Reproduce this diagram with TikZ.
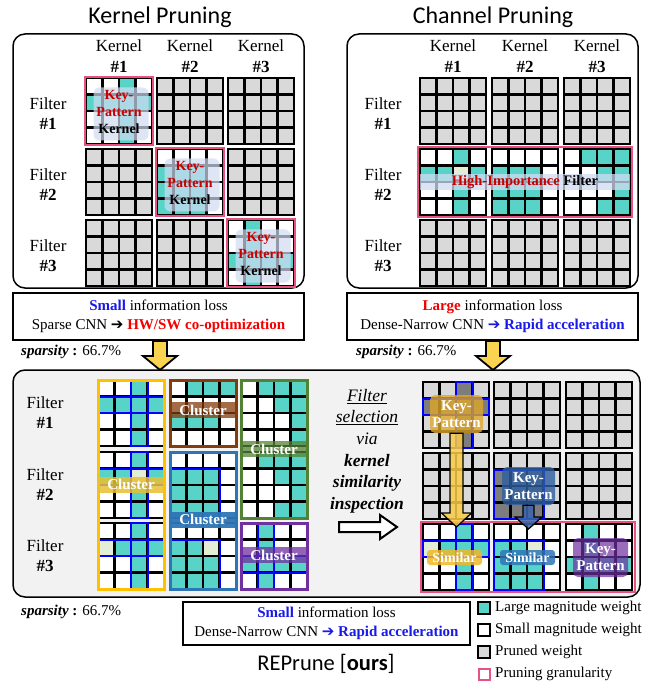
\documentclass[tikz,border=0pt]{standalone}
\usepackage{fontspec}
\setmainfont{Liberation Serif}
\newfontfamily\calfont{Carlito}
\newfontfamily\symfont{DejaVu Sans}
\usetikzlibrary{calc}

% weight colours
\definecolor{cT}{RGB}{88,211,200}
\definecolor{cW}{RGB}{255,255,255}
\definecolor{cG}{RGB}{217,217,217}
\definecolor{cD}{RGB}{125,125,125}
\definecolor{cC}{RGB}{228,238,214}
\definecolor{pinkg}{RGB}{232,82,128}
\definecolor{txtblue}{RGB}{25,25,235}
\definecolor{txtred}{RGB}{245,0,0}
\definecolor{darkred}{RGB}{200,0,0}
\definecolor{clYel}{RGB}{255,192,0}
\definecolor{clYelLbl}{RGB}{232,192,50}
\definecolor{clBrn}{RGB}{132,60,12}
\definecolor{clGrn}{RGB}{84,130,53}
\definecolor{clBlu}{RGB}{46,117,182}
\definecolor{clPur}{RGB}{112,48,160}
\definecolor{arrYel}{RGB}{250,212,80}
\definecolor{panelgray}{RGB}{242,242,242}
\definecolor{keyblue}{RGB}{0,0,255}
\definecolor{ovl}{RGB}{208,220,242}

% 4x4 kernel patterns (T large, W small, G pruned, D pruned key cell, C faint)
\def\patG{G,G,G,G,G,G,G,G,G,G,G,G,G,G,G,G}
\def\patA{W,W,T,W,T,T,T,T,W,W,T,W,W,W,T,W}
\def\patAb{W,W,T,W,T,T,C,T,W,W,T,W,W,W,T,W}
\def\patAc{W,W,T,W,C,T,T,T,W,W,T,W,W,W,T,W}
\def\patB{W,W,W,W,T,T,T,W,T,T,T,W,T,T,T,W}
\def\patBc{W,W,W,W,T,T,C,W,T,T,T,W,T,T,T,W}
\def\patE{W,T,W,W,W,T,W,W,T,T,T,T,W,T,W,W}
\def\patH{W,T,T,T,W,W,T,T,W,W,W,T,W,W,W,T}
\def\patHb{W,T,T,T,W,W,T,T,W,W,W,T,W,W,T,T}
\def\patK{W,T,T,T,W,W,W,W,T,T,T,W,W,W,W,W}
\def\patAd{G,G,D,G,D,D,D,D,G,G,D,G,G,G,D,G}
\def\patBd{G,G,G,G,D,D,D,G,D,D,D,G,D,D,D,G}

\tikzset{
  cellline/.style={line width=2.1pt, draw=black},
  keyline/.style={line width=2pt, draw=keyblue},
  pinkbox/.style={draw=pinkg, line width=2.6pt},
  lbl/.style={font=\fontsize{17}{20}\selectfont, inner sep=0pt},
  lblb/.style={font=\fontsize{17}{20}\selectfont\bfseries, inner sep=0pt},
  titletext/.style={font=\calfont\fontsize{24}{28}\selectfont, inner sep=0pt},
  kpover/.style={rounded corners=6pt, fill=ovl, fill opacity=0.7, minimum width=55pt, minimum height=53pt, inner sep=0pt},
  kptext/.style={font=\fontsize{14}{17}\selectfont\bfseries, align=center, inner sep=0pt},
  infobox/.style={draw=black, line width=1.5pt, fill=white, align=center, font=\fontsize{15}{19}\selectfont, inner sep=0pt},
  sparse/.style={font=\fontsize{15}{18}\selectfont, inner sep=0pt, anchor=west},
  clusterbox/.style={line width=3pt},
  clusterlbl/.style={minimum width=66pt, minimum height=16pt, inner sep=0pt, fill opacity=0.75, text opacity=1, text=white, font=\fontsize{15}{18}\selectfont\bfseries},
  keylbl/.style={rounded corners=5pt, inner sep=0pt, fill opacity=0.8, text opacity=1, text=white, align=center, font=\fontsize{15}{17}\selectfont\bfseries},
  simlbl/.style={rounded corners=3pt, minimum width=55pt, minimum height=15pt, inner sep=0pt, fill opacity=0.85, text opacity=1, text=white, font=\fontsize{14}{16}\selectfont\bfseries},
  legtext/.style={font=\fontsize{15}{18}\selectfont, inner sep=0pt, anchor=west},
  legbox/.style={line width=1.3pt, draw=black},
}

% one kernel: top-left corner (x,y) and a pattern macro
\newcommand\kgrid[3]{%
  \begin{scope}[shift={(#1,#2)},x=16.5pt,y=-16.5pt]
    \foreach \c [count=\i from 0] in #3 {%
      \pgfmathtruncatemacro\cx{mod(\i,4)}%
      \pgfmathtruncatemacro\cy{floor(\i/4)}%
      \fill[fill=c\c] (\cx,\cy) rectangle ++(1,1);}
    \foreach \k in {1,2,3}{\draw[cellline] (\k,0)--(\k,4) (0,\k)--(4,\k);}
    \draw[cellline] (0,0) rectangle (4,4);
  \end{scope}}
% key-pattern outlines inside a kernel
\newcommand\crossA[2]{\begin{scope}[shift={(#1,#2)},x=16.5pt,y=-16.5pt]
  \draw[keyline] (2,0) rectangle (3,4) (0,1) rectangle (4,2);\end{scope}}
\newcommand\crossB[2]{\begin{scope}[shift={(#1,#2)},x=16.5pt,y=-16.5pt]
  \draw[keyline] (1,0) rectangle (2,4) (0,2) rectangle (4,3);\end{scope}}
\newcommand\blockC[2]{\begin{scope}[shift={(#1,#2)},x=16.5pt,y=-16.5pt]
  \draw[keyline] (0,1) rectangle (3,4);\end{scope}}
% downward block arrow: start, tip, shaft width, head width, head length, style
\newcommand\downblock[6]{%
  \path[#6] let \p1=(#1), \p2=(#2) in
    (\x1-0.5*#3pt,\y1) -- (\x1+0.5*#3pt,\y1) -- (\x1+0.5*#3pt,\y2+#5pt)
    -- (\x1+0.5*#4pt,\y2+#5pt) -- (\x1,\y2) -- (\x1-0.5*#4pt,\y2+#5pt)
    -- (\x1-0.5*#3pt,\y2+#5pt) -- cycle;}

\begin{document}
\begin{tikzpicture}[x=1pt,y=-1pt]
\useasboundingbox (0,0) rectangle (657,684);

% ---------- titles ----------
\node[titletext] (tK) at (160,17) {Kernel Pruning};
\node[titletext] (tC) at (493,17) {Channel Pruning};

% ---------- top panels ----------
\draw[line width=1.5pt, rounded corners=12pt, fill=white] (13,34) rectangle (304,288);
\draw[line width=1.5pt, rounded corners=12pt, fill=white] (347,34) rectangle (638,288);

% column and row headers
\foreach \n/\cx in {1/119,2/190,3/261}{
  \node[lbl] (hk\n) at (\cx,46) {Kernel};
  \node[lblb] (hn\n) at (\cx,67) {\#\n};}
\foreach \n/\cx in {1/453,2/525,3/597}{
  \node[lbl] (ck\n) at (\cx,46) {Kernel};
  \node[lblb] (cn\n) at (\cx,67) {\#\n};}
\foreach \n/\cy in {1/111,2/182,3/253}{
  \node[lbl] (hf\n) at (48,\cy-7) {Filter};
  \node[lblb] (hfn\n) at (48,\cy+13) {\#\n};
  \node[lbl] (cf\n) at (383,\cy-7) {Filter};
  \node[lblb] (cfn\n) at (383,\cy+13) {\#\n};}

% kernel pruning grids
\kgrid{86}{78}{\patA}  \kgrid{157}{78}{\patG}  \kgrid{228}{78}{\patG}
\kgrid{86}{149}{\patG} \kgrid{157}{149}{\patB} \kgrid{228}{149}{\patG}
\kgrid{86}{220}{\patG} \kgrid{157}{220}{\patG} \kgrid{228}{220}{\patE}
\draw[pinkbox] (85,77) rectangle (153,145);
\draw[pinkbox] (156,148) rectangle (224,216);
\draw[pinkbox] (227,219) rectangle (295,287);
\foreach \n/\kx/\ky in {1/119/111,2/190/182,3/261/253}{
  \node[kpover] (ov\n) at (\kx+2,\ky+3) {};
  \node[kptext] (kt\n) at (\kx,\ky+1) {\textcolor{darkred}{Key-}\\\textcolor{darkred}{Pattern}\\Kernel};}

% channel pruning grids
\kgrid{420}{78}{\patG}  \kgrid{492}{78}{\patG}  \kgrid{564}{78}{\patG}
\kgrid{420}{149}{\patAb} \kgrid{492}{149}{\patB} \kgrid{564}{149}{\patHb}
\kgrid{420}{220}{\patG} \kgrid{492}{220}{\patG} \kgrid{564}{220}{\patG}
\draw[pinkbox] (418,147) rectangle (632,217);
\node[fill=ovl, fill opacity=0.75, text opacity=1, minimum width=210pt, minimum height=16pt, inner sep=0pt,
      font=\fontsize{14.5}{16}\selectfont\bfseries] (hif) at (525,182)
      {\textcolor{darkred}{High-Importance} Filter};

% ---------- information boxes ----------
\node[infobox, minimum width=291pt, minimum height=47pt] (infoL) at (158.5,316.5)
  {\textcolor{txtblue}{\bfseries Small} information loss\\
   Sparse CNN {\symfont\bfseries ➔} \textcolor{txtred}{\bfseries HW/SW co-optimization}};
\node[infobox, minimum width=291pt, minimum height=47pt] (infoR) at (492.5,316.5)
  {\textcolor{txtred}{\bfseries Large} information loss\\
   Dense-Narrow CNN \textcolor{txtblue}{{\symfont\bfseries ➔} \bfseries Rapid acceleration}};
\node[sparse] (spL) at (21,352) {\textbf{\textit{sparsity}} \textbf{:} 66.7\%};
\node[sparse] (spR) at (356,352) {\textbf{\textit{sparsity}} \textbf{:} 66.7\%};

% ---------- bottom panel ----------
\draw[line width=1.5pt, rounded corners=12pt, fill=panelgray] (13,370) rectangle (640,597);
\coordinate (aLs) at (160,341);
\coordinate (aLe) at (160,370);
\coordinate (aRs) at (493,341);
\coordinate (aRe) at (493,370);
\downblock{aLs}{aLe}{14}{34}{14}{fill=arrYel, draw=black, line width=1.8pt}
\downblock{aRs}{aRe}{14}{34}{14}{fill=arrYel, draw=black, line width=1.8pt}

\foreach \n/\cy in {1/413,2/485,3/556}{
  \node[lbl] (bf\n) at (45,\cy-10) {Filter};
  \node[lblb] (bfn\n) at (45,\cy+10) {\#\n};}

% clustered kernels
\kgrid{98}{380}{\patA}   \kgrid{170}{380}{\patK}  \kgrid{241}{380}{\patH}
\kgrid{98}{452}{\patAb}  \kgrid{170}{452}{\patB}  \kgrid{241}{452}{\patHb}
\kgrid{98}{523}{\patAc}  \kgrid{170}{523}{\patBc} \kgrid{241}{523}{\patE}
\crossA{98}{380} \crossA{98}{452} \crossA{98}{523}
\blockC{170}{452} \blockC{170}{523} \crossB{241}{523}
\draw[clusterbox, draw=clYel] (98,380) rectangle (164,589);
\draw[clusterbox, draw=clBrn] (170,380) rectangle (236,446);
\draw[clusterbox, draw=clGrn] (241,380) rectangle (307,518);
\draw[clusterbox, draw=clBlu] (170,452) rectangle (236,589);
\draw[clusterbox, draw=clPur] (241,523) rectangle (307,589);
\node[clusterlbl, fill=clBrn] (clb) at (203,410) {Cluster};
\node[clusterlbl, fill=clGrn] (clg) at (274,449) {Cluster};
\node[clusterlbl, fill=clYelLbl, fill opacity=0.85] (cly) at (131,484.5) {Cluster};
\node[clusterlbl, fill=clBlu, fill opacity=0.95] (clu) at (203,519.5) {Cluster};
\node[clusterlbl, fill=clPur] (clp) at (274,555) {Cluster};

% selection text and hollow arrow
\node[align=center, inner sep=0pt, font=\fontsize{17.5}{21.6}\selectfont] (sel) at (367,451)
  {\underline{\textit{Filter}}\\\underline{\textit{selection}}\\\textit{via}\\
   \textbf{\textit{kernel}}\\\textbf{\textit{similarity}}\\\textbf{\textit{inspection}}};
\coordinate (hs) at (339,527);
\coordinate (he) at (397,527);
\path[draw=black, fill=white, line width=2pt, line join=miter] let \p1=(hs), \p2=(he) in
  (\x1,\y1+5pt) -- (\x2-17pt,\y1+5pt) -- (\x2-17pt,\y1+12pt) -- (\x2,\y1)
  -- (\x2-17pt,\y1-12pt) -- (\x2-17pt,\y1-5pt) -- (\x1,\y1-5pt) -- cycle;

% selected filters
\kgrid{423}{382}{\patAd} \kgrid{494}{382}{\patG}  \kgrid{566}{382}{\patG}
\kgrid{423}{453}{\patG}  \kgrid{494}{453}{\patBd} \kgrid{566}{453}{\patG}
\kgrid{423}{524}{\patAc} \kgrid{494}{524}{\patBc} \kgrid{566}{524}{\patE}
\crossA{423}{382} \blockC{494}{453} \crossA{423}{524} \blockC{494}{524}
\draw[pinkbox] (421,522) rectangle (635,592);

\node[keylbl, fill={rgb,255:red,222;green,168;blue,40}, minimum width=53pt, minimum height=38pt] (kpY) at (456.5,414) {Key-\\Pattern};
\node[keylbl, fill={rgb,255:red,46;green,95;blue,160}, minimum width=53pt, minimum height=38pt] (kpB) at (528.5,486) {Key-\\Pattern};
\node[keylbl, fill=clPur, fill opacity=0.7, minimum width=55pt, minimum height=39pt] (kpP) at (600.5,557.5) {Key-\\Pattern};
\node[simlbl, fill={rgb,255:red,240;green,185;blue,40}] (simY) at (454.5,557.5) {Similar};
\node[simlbl, fill=clBlu] (simB) at (527.5,557.5) {Similar};

\coordinate (yTip) at (456.5,527);
\coordinate (bTip) at (528.5,529);
\downblock{kpY.south}{yTip}{13}{30}{14}{fill=arrYel!90!orange, fill opacity=0.85, draw=black, line width=1.2pt}
\downblock{kpB.south}{bTip}{11}{27}{12}{fill={rgb,255:red,60;green,100;blue,170}, fill opacity=0.85, draw=black, line width=1.2pt}

% ---------- bottom information and legend ----------
\node[sparse] (spB) at (21,612) {\textbf{\textit{sparsity}} \textbf{:} 66.7\%};
\node[infobox, minimum width=287pt, minimum height=43pt] (infoB) at (326.5,623.5)
  {\textcolor{txtblue}{\bfseries Small} information loss\\
   Dense-Narrow CNN \textcolor{txtblue}{{\symfont\bfseries ➔} \bfseries Rapid acceleration}};
\node[font=\calfont\fontsize{22.5}{26}\selectfont, inner sep=0pt] (rep) at (326,664) {REPrune [\textbf{ours}]};

\draw[legbox, fill=cT] (478,602) rectangle (490,614);
\draw[legbox, fill=white] (478,624) rectangle (490,636);
\draw[legbox, fill=cG] (478,646) rectangle (490,658);
\draw[line width=2pt, draw=pinkg, fill=white] (478.5,668.5) rectangle (489.5,679.5);
\node[legtext] (lg1) at (495,608) {Large magnitude weight};
\node[legtext] (lg2) at (495,630) {Small magnitude weight};
\node[legtext] (lg3) at (495,652) {Pruned weight};
\node[legtext] (lg4) at (495,674) {Pruning granularity};
\end{tikzpicture}
\end{document}
